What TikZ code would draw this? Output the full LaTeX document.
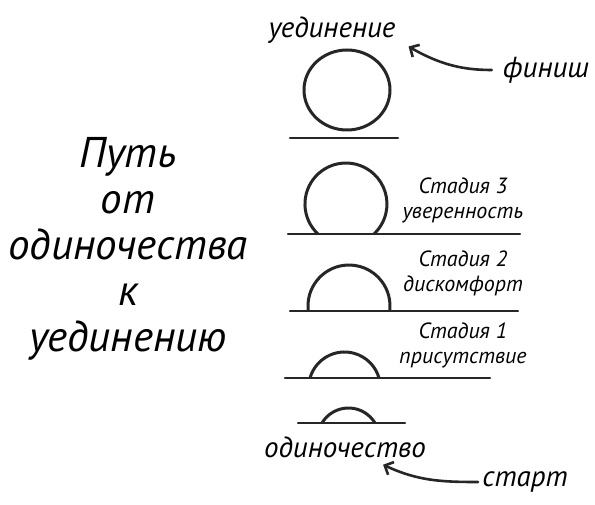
\documentclass[tikz,border=0pt]{standalone}
\usepackage{fontspec}
\setmainfont{PT Sans}
\usetikzlibrary{arrows.meta,calc}
\tikzstyle{title} = [font=\itshape\fontsize{43}{46}\selectfont, align=center, inner sep=0pt]
\tikzstyle{label} = [font=\itshape\fontsize{29}{30}\selectfont, inner sep=1pt]
\tikzstyle{stage} = [font=\itshape\fontsize{22}{25}\selectfont, align=center, inner sep=1pt]
\tikzstyle{sun} = [draw, line width=3pt, black!85]
\tikzstyle{ground} = [draw, line width=2.4pt, line cap=round, black!85]
\tikzstyle{pointer} = [draw, line width=2.6pt, line cap=round, -{Straight Barb[length=7pt,width=14pt]}, black!85]

\begin{document}
\begin{tikzpicture}[x=1pt,y=1pt]
    \useasboundingbox (0,0) rectangle (595,504);

    % left title
    \node[title] (title) at (128,255) {Путь\\от\\одиночества\\к\\уединению};

    % labels
    \node[label] (goal) at (332,474) {уединение};
    \node[label] (finish) at (546,434) {финиш};
    \node[stage] (stage3) at (463,304) {Стадия 3\\уверенность};
    \node[stage] (stage2) at (463,231) {Стадия 2\\дискомфорт};
    \node[stage] (stage1) at (463,159) {Стадия 1\\присутствие};
    \node[label] (alone) at (345,57) {одиночество};
    \node[label] (start) at (525,22) {старт};

    % suns over the horizon
    \draw[sun] (347,414) ellipse[x radius=43, y radius=40];
    \draw[ground] (290,366) -- (398,366);

    \draw[sun] (318,270) arc[start angle=227, end angle=-47, radius=41];
    \draw[ground] (288,270) -- (520,270);

    \draw[sun] (308.3,193) arc[start angle=187, end angle=-7, radius=41];
    \draw[ground] (290,193) -- (518,193);

    \draw[sun] (310,126) arc[start angle=164, end angle=16, radius=35.9];
    \draw[ground] (285,126) -- (490,126);

    \draw[sun] (322,81) arc[start angle=149, end angle=31, radius=30.9];
    \draw[ground] (298,81) -- (405,81);

    % arrows
    \draw[pointer, shorten <=10pt] (finish.west) to[out=180, in=-30] ([xshift=12,yshift=-2]goal.south east);
    \draw[pointer, shorten <=3pt] (start.west) to[out=180, in=-25] ($(alone.south east)+(-44,-6)$);
\end{tikzpicture}
\end{document}
